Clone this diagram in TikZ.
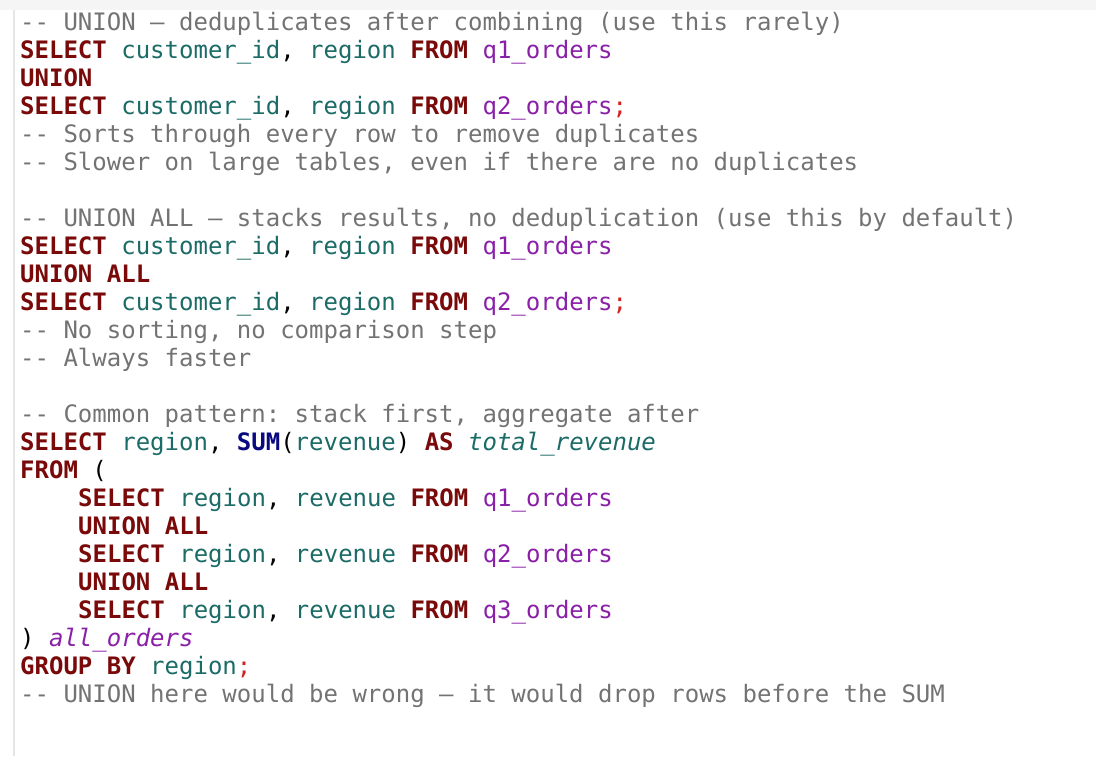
\documentclass[tikz,border=0pt]{standalone}
\usepackage{fontspec}
\setmonofont{DejaVu Sans Mono}
\definecolor{kwc}{HTML}{7A0A0A}
\definecolor{idc}{HTML}{1B6B66}
\definecolor{tbc}{HTML}{8A1FA8}
\definecolor{cmc}{HTML}{737373}
\definecolor{fnc}{HTML}{0A0A80}
\definecolor{scc}{HTML}{D42020}
\newcommand{\kw}[1]{\textcolor{kwc}{\bfseries #1}}
\newcommand{\idn}[1]{\textcolor{idc}{#1}}
\newcommand{\tbl}[1]{\textcolor{tbc}{#1}}
\newcommand{\cmt}[1]{\textcolor{cmc}{#1}}
\newcommand{\scl}{\textcolor{scc}{;}}
\begin{document}
\begin{tikzpicture}[x=1pt, y=1pt,
  code/.style={anchor=base west, inner sep=0pt, font=\ttfamily\fontsize{24}{28}\selectfont}]
  \fill[white] (0,0) rectangle (1096,756);
  \fill[black!4] (0,746) rectangle (1096,756);
  \draw[black!10, line width=1.5pt] (14,0) -- (14,746);
  \node[code] (l0) at (20,725) {\cmt{-- UNION — deduplicates after combining (use this rarely)}};
  \node[code] (l1) at (20,697) {\kw{SELECT} \idn{customer\_id}, \idn{region} \kw{FROM} \tbl{q1\_orders}};
  \node[code] (l2) at (20,669) {\kw{UNION}};
  \node[code] (l3) at (20,641) {\kw{SELECT} \idn{customer\_id}, \idn{region} \kw{FROM} \tbl{q2\_orders}\scl};
  \node[code] (l4) at (20,613) {\cmt{-- Sorts through every row to remove duplicates}};
  \node[code] (l5) at (20,585) {\cmt{-- Slower on large tables, even if there are no duplicates}};
  \node[code] (l7) at (20,529) {\cmt{-- UNION ALL — stacks results, no deduplication (use this by default)}};
  \node[code] (l8) at (20,501) {\kw{SELECT} \idn{customer\_id}, \idn{region} \kw{FROM} \tbl{q1\_orders}};
  \node[code] (l9) at (20,473) {\kw{UNION ALL}};
  \node[code] (l10) at (20,445) {\kw{SELECT} \idn{customer\_id}, \idn{region} \kw{FROM} \tbl{q2\_orders}\scl};
  \node[code] (l11) at (20,417) {\cmt{-- No sorting, no comparison step}};
  \node[code] (l12) at (20,389) {\cmt{-- Always faster}};
  \node[code] (l14) at (20,333) {\cmt{-- Common pattern: stack first, aggregate after}};
  \node[code] (l15) at (20,305) {\kw{SELECT} \idn{region}, \textcolor{fnc}{\bfseries SUM}(\idn{revenue}) \kw{AS} \textcolor{idc}{\itshape total\_revenue}};
  \node[code] (l16) at (20,277) {\kw{FROM} (};
  \node[code] (l17) at (78,249) {\kw{SELECT} \idn{region}, \idn{revenue} \kw{FROM} \tbl{q1\_orders}};
  \node[code] (l18) at (78,221) {\kw{UNION ALL}};
  \node[code] (l19) at (78,193) {\kw{SELECT} \idn{region}, \idn{revenue} \kw{FROM} \tbl{q2\_orders}};
  \node[code] (l20) at (78,165) {\kw{UNION ALL}};
  \node[code] (l21) at (78,137) {\kw{SELECT} \idn{region}, \idn{revenue} \kw{FROM} \tbl{q3\_orders}};
  \node[code] (l22) at (20,109) {) \textcolor{tbc}{\itshape all\_orders}};
  \node[code] (l23) at (20,81) {\kw{GROUP BY} \idn{region}\scl};
  \node[code] (l24) at (20,53) {\cmt{-- UNION here would be wrong — it would drop rows before the SUM}};
\end{tikzpicture}
\end{document}
